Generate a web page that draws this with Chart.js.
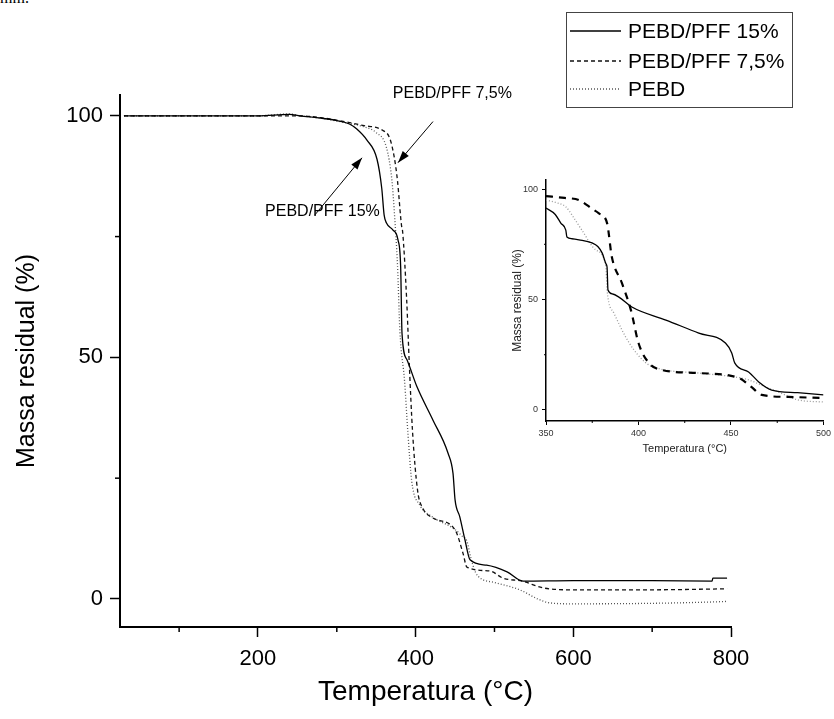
<!DOCTYPE html>
<html>
<head>
<meta charset="utf-8">
<script src="https://cdn.jsdelivr.net/npm/chart.js@4/dist/chart.umd.min.js"></script>
<style>
  html, body { margin: 0; padding: 0; background: #fff; }
  #wrap { position: relative; width: 834px; height: 719px; overflow: hidden; }
  #main { position: absolute; left: 0; top: 0; }
  #inset { position: absolute; left: 490px; top: 165px; }
  #cut { position: absolute; left: 0; top: -11px; font: 16px "Liberation Serif", serif; }
</style>
</head>
<body>
<div id="wrap">
  <div id="cut">mm.</div>
  <canvas id="main" width="834" height="719"></canvas>
  <canvas id="inset" width="344" height="300"></canvas>
</div>
<script>
// Curvas TGA
// ////////////

const seriesNames = ["PEBD/PFF 15%", "PEBD/PFF 7,5%", "PEBD"];

// grafico principal (temperatura °C / massa residual %)
const temp15 = [30, 100, 200, 240, 253, 280, 300, 316, 325, 338, 351, 357, 360, 363, 371, 377.6, 381, 382.7, 389, 401.7, 422, 441, 447.4, 450, 456, 462.6, 469, 490, 516, 536, 600, 700, 776, 777, 795];
const mass15 = [100, 100, 100, 100.3, 100, 99.5, 99, 98.3, 97.3, 95, 91, 85, 79.5, 77.8, 76.4, 74.3, 68.7, 55, 49.5, 43.9, 37, 30.2, 26, 20.5, 17, 12.2, 8.1, 7, 5.6, 3.7, 3.8, 3.8, 3.7, 4.3, 4.3];

const temp75 = [30, 100, 200, 250, 280, 316, 333, 358, 367, 373, 377, 382, 383.5, 388.6, 392, 396, 402.5, 409, 421.5, 450, 460, 465, 494, 511, 535, 561.5, 596, 700, 795];
const mass75 = [100, 100, 100, 100, 99.6, 98.6, 98, 97, 95.4, 91.3, 86.5, 77.4, 76, 62, 48.4, 34.8, 22.4, 18.8, 16.8, 14.3, 9.5, 6.6, 5.8, 4.3, 3.7, 2.3, 1.9, 1.9, 2.1];

const temp0 = [30, 100, 200, 240, 253, 280, 316, 333, 350, 363, 370, 373, 377, 380, 386, 390, 395, 405, 421, 449, 459, 465, 470, 476, 482, 500, 532, 555, 570, 600, 700, 780, 795];
const mass0 = [100, 100, 100, 100.4, 100, 99.5, 98.4, 97.8, 96.5, 93.4, 86.5, 80, 69, 55.5, 45, 34.8, 24.4, 19.5, 17, 14.5, 13, 12, 8.5, 5.5, 4.3, 3.4, 1.9, 0, -0.8, -1, -0.9, -0.6, -0.5];

// detalhe 350-500 °C
const insetTemp15 = [350, 355, 358, 360.7, 361.3, 364, 367.8, 374.9, 378, 380.4, 382.5, 383, 383.5, 386, 389.4, 396.4, 414.8, 432.6, 447, 450.4, 452, 459.5, 465, 472, 486, 500];
const insetMass15 = [91.4, 88.5, 84.6, 81.4, 78.3, 77.5, 77, 75.6, 74, 71, 66, 64.7, 54.3, 52.5, 51.1, 46.6, 40.7, 34.8, 30.3, 25.8, 21.3, 17.2, 12.7, 9, 7.8, 6.8];

const insetTemp75 = [350, 360, 367.8, 375, 378.6, 383, 385.6, 391, 395.9, 400, 405.6, 412.6, 432.6, 454.2, 461, 466.6, 481, 500];
const insetMass75 = [96.8, 96, 95, 91, 89, 84.6, 69.2, 57.5, 45.2, 30.3, 21.3, 18.1, 16.7, 14.5, 10.4, 6.8, 5.9, 5.4];

const insetTemp0 = [350, 355, 360.8, 365, 369.4, 377, 382.4, 383, 386.7, 395, 404, 412, 432.6, 459.5, 468.7, 475.7, 486.5, 500];
const insetMass0 = [95, 94, 91.9, 87, 81.4, 72.4, 64.7, 54.3, 43.9, 30.3, 21.3, 18.5, 16.7, 13.6, 10.4, 8.1, 4.5, 3.6];

const FONT = '"Liberation Sans", Arial, sans-serif';

const toXY = (t, m) => t.map((x, i) => ({ x: x, y: m[i] }));

function line(ctx, x1, y1, x2, y2) {
  ctx.beginPath();
  ctx.moveTo(x1, y1);
  ctx.lineTo(x2, y2);
  ctx.stroke();
}

// ticks menores (Chart.js nao tem)
const minorTicks = {
  id: 'minorTicks',
  afterDraw(chart, args, opts) {
    const { ctx, scales: { x, y } } = chart;
    ctx.save();
    ctx.strokeStyle = '#000';
    ctx.lineWidth = opts.width;
    x.ticks.forEach(t => {
      if (t.value % opts.xMajor !== 0) {
        const px = x.getPixelForValue(t.value);
        line(ctx, px, x.top, px, x.top + opts.len);
      }
    });
    y.ticks.forEach(t => {
      if (t.value % opts.yMajor !== 0) {
        const py = y.getPixelForValue(t.value);
        line(ctx, y.right, py, y.right - opts.len, py);
      }
    });
    ctx.restore();
  }
};

// legenda com caixa
const legendBox = {
  id: 'legendBox',
  afterDraw(chart) {
    const ctx = chart.ctx;
    ctx.save();
    ctx.strokeStyle = '#444';
    ctx.lineWidth = 1;
    ctx.strokeRect(566.5, 12.5, 226, 95);
    ctx.font = '21px ' + FONT;
    ctx.fillStyle = '#000';
    ctx.textBaseline = 'middle';
    const rows = [31, 61, 89];
    chart.data.datasets.forEach((ds, i) => {
      ctx.strokeStyle = ds.borderColor;
      ctx.lineWidth = ds.borderWidth;
      ctx.setLineDash(ds.borderDash || []);
      line(ctx, 570, rows[i], 621, rows[i]);
      ctx.setLineDash([]);
      ctx.fillText(ds.label, 628, rows[i] + 1);
    });
    ctx.restore();
  }
};

// setas e textos no grafico
function arrow(ctx, x1, y1, x2, y2) {
  line(ctx, x1, y1, x2, y2);
  const a = Math.atan2(y2 - y1, x2 - x1);
  const len = 12, w = 4;
  ctx.beginPath();
  ctx.moveTo(x2, y2);
  ctx.lineTo(x2 - len * Math.cos(a) + w * Math.sin(a), y2 - len * Math.sin(a) - w * Math.cos(a));
  ctx.lineTo(x2 - len * Math.cos(a) - w * Math.sin(a), y2 - len * Math.sin(a) + w * Math.cos(a));
  ctx.closePath();
  ctx.fill();
}

const notes = {
  id: 'notes',
  afterDraw(chart) {
    const { ctx, scales: { x, y } } = chart;
    ctx.save();
    ctx.strokeStyle = '#000';
    ctx.fillStyle = '#000';
    ctx.lineWidth = 1;
    arrow(ctx, x.getPixelForValue(422), y.getPixelForValue(98.8), x.getPixelForValue(377.6), y.getPixelForValue(90.3));
    arrow(ctx, x.getPixelForValue(272.3), y.getPixelForValue(79.5), x.getPixelForValue(332), y.getPixelForValue(91.3));
    ctx.font = '16px ' + FONT;
    ctx.textBaseline = 'alphabetic';
    ctx.fillText(seriesNames[1], x.getPixelForValue(371), y.getPixelForValue(103.6));
    ctx.fillText(seriesNames[0], x.getPixelForValue(209), y.getPixelForValue(79.2));
    ctx.restore();
  }
};

const majorColor = (step) => (c) => (c.tick && c.tick.value % step === 0 ? '#000' : 'rgba(0,0,0,0)');

new Chart(document.getElementById('main'), {
  type: 'line',
  data: {
    datasets: [
      { label: seriesNames[0], data: toXY(temp15, mass15), borderColor: '#000', borderWidth: 1.3 },
      { label: seriesNames[1], data: toXY(temp75, mass75), borderColor: '#111', borderWidth: 1.3, borderDash: [4, 3] },
      { label: seriesNames[2], data: toXY(temp0, mass0), borderColor: '#555', borderWidth: 1.3, borderDash: [1, 2] }
    ]
  },
  options: {
    responsive: false,
    animation: false,
    devicePixelRatio: 1,
    elements: { point: { radius: 0 }, line: { cubicInterpolationMode: 'monotone', fill: false } },
    layout: { padding: { left: 0, top: 95, right: 103, bottom: 0 } },
    plugins: {
      legend: { display: false }, tooltip: { enabled: false },
      minorTicks: { len: 5, width: 1.5, xMajor: 200, yMajor: 50 }
    },
    scales: {
      x: {
        type: 'linear', min: 25, max: 800,
        afterFit: s => { s.height = 92; },
        border: { color: '#000', width: 2 },
        grid: { drawOnChartArea: false, tickLength: 10, tickWidth: 1.5, tickColor: majorColor(200) },
        ticks: { stepSize: 100, includeBounds: false, padding: 9, color: '#000', font: { family: FONT, size: 22 },
          callback: v => (v % 200 === 0 ? v : '') },
        title: { display: true, text: 'Temperatura (°C)', color: '#000', font: { family: FONT, size: 28 }, padding: { top: 0, bottom: 10 } }
      },
      y: {
        min: -5.8, max: 104.3,
        afterFit: s => { s.width = 120; },
        border: { color: '#000', width: 2 },
        grid: { drawOnChartArea: false, tickLength: 10, tickWidth: 1.5, tickColor: majorColor(50) },
        ticks: { stepSize: 25, includeBounds: false, padding: 7, color: '#000', font: { family: FONT, size: 22 },
          callback: v => (v % 50 === 0 ? v : '') },
        title: { display: true, text: 'Massa residual (%)', color: '#000', font: { family: FONT, size: 25 }, padding: { top: 12, bottom: 0 } }
      }
    }
  },
  plugins: [minorTicks, legendBox, notes]
});

// Inset
// ////////////

new Chart(document.getElementById('inset'), {
  type: 'line',
  data: {
    datasets: [
      { label: seriesNames[0], data: toXY(insetTemp15, insetMass15), borderColor: '#000', borderWidth: 1.3 },
      { label: seriesNames[1], data: toXY(insetTemp75, insetMass75), borderColor: '#000', borderWidth: 2.2, borderDash: [7, 6] },
      { label: seriesNames[2], data: toXY(insetTemp0, insetMass0), borderColor: '#999', borderWidth: 1.3, borderDash: [1, 2] }
    ]
  },
  options: {
    responsive: false,
    animation: false,
    devicePixelRatio: 1,
    elements: { point: { radius: 0 }, line: { cubicInterpolationMode: 'monotone', fill: false } },
    layout: { padding: { left: 0, top: 15, right: 9, bottom: 0 } },
    plugins: {
      legend: { display: false }, tooltip: { enabled: false },
      minorTicks: { len: 2, width: 1, xMajor: 50, yMajor: 50 }
    },
    scales: {
      x: {
        type: 'linear', min: 350, max: 500,
        afterFit: s => { s.height = 44; },
        border: { color: '#000', width: 1.5 },
        grid: { drawOnChartArea: false, tickLength: 4, tickWidth: 1, tickColor: majorColor(50) },
        ticks: { stepSize: 25, padding: 3, color: '#333', font: { family: FONT, size: 9 },
          callback: v => (v % 50 === 0 ? v : '') },
        title: { display: true, text: 'Temperatura (°C)', color: '#222', font: { family: FONT, size: 11 }, padding: { top: 0, bottom: 9 } }
      },
      y: {
        min: -5, max: 104.1,
        afterFit: s => { s.width = 56; },
        border: { color: '#000', width: 1.5 },
        grid: { drawOnChartArea: false, tickLength: 4, tickWidth: 1, tickColor: majorColor(50) },
        ticks: { stepSize: 25, includeBounds: false, padding: 4, color: '#333', font: { family: FONT, size: 9 },
          callback: v => (v % 50 === 0 ? v : '') },
        title: { display: true, text: 'Massa residual (%)', color: '#222', font: { family: FONT, size: 12 }, padding: { top: 20, bottom: 0 } }
      }
    }
  },
  plugins: [minorTicks]
});
</script>
</body>
</html>
